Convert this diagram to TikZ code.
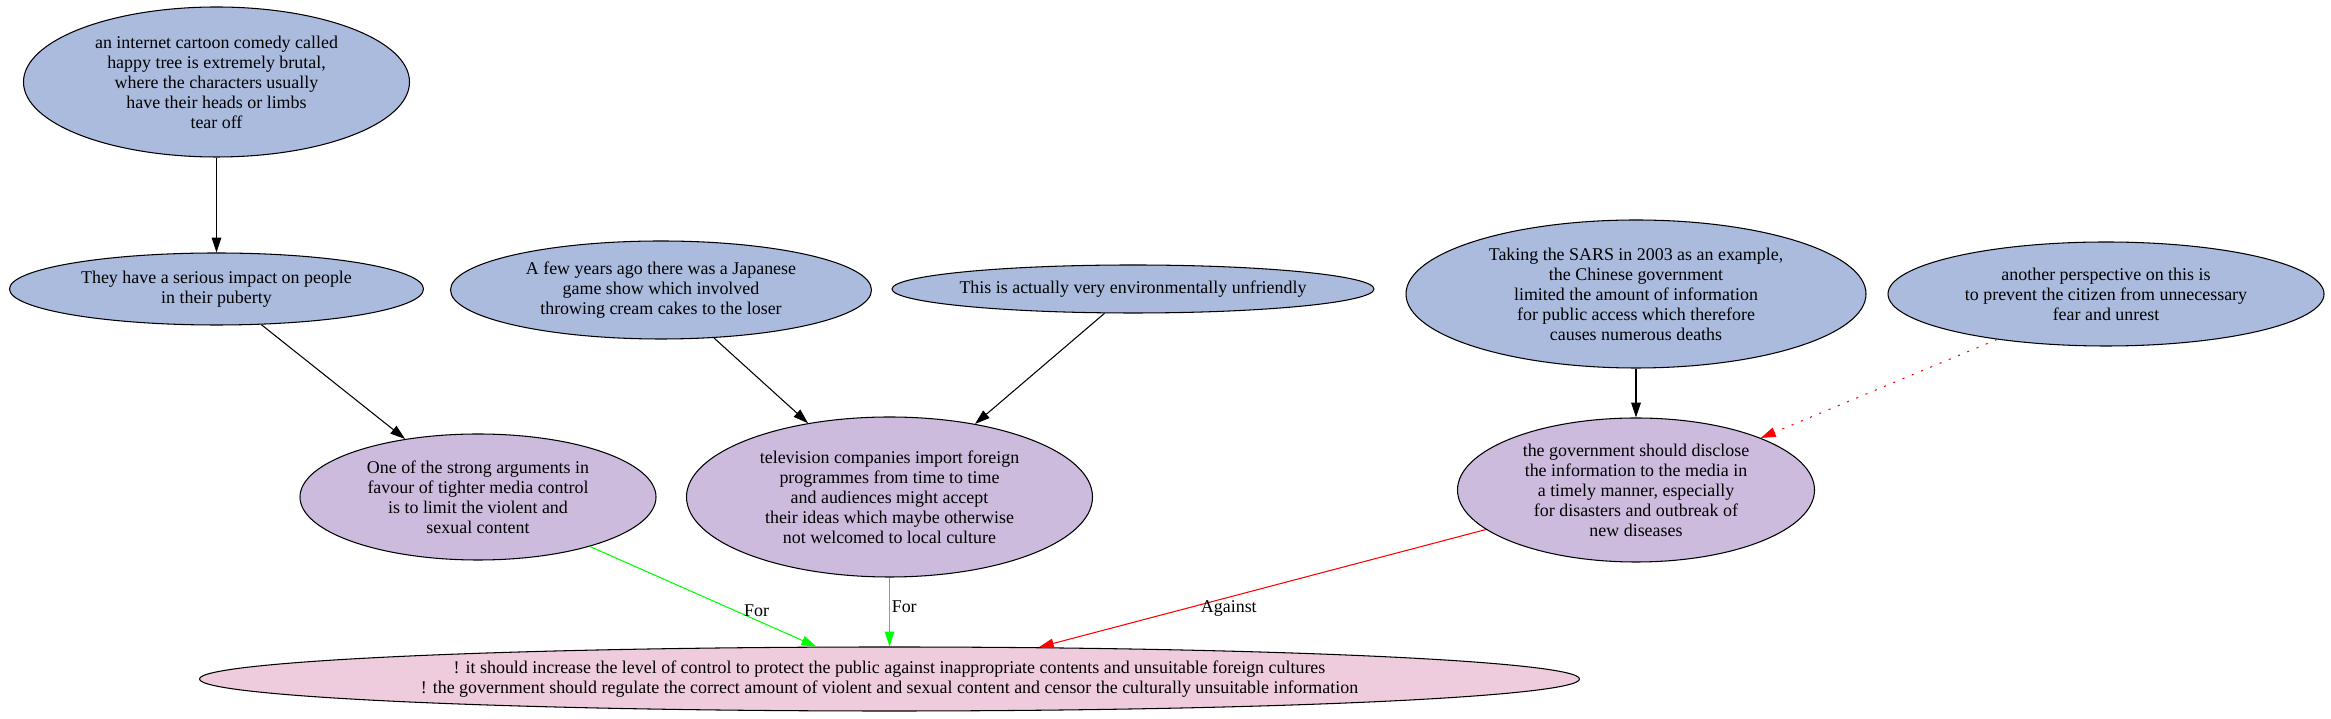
\documentclass[tikz,border=0pt]{standalone}
\usepackage{fontspec}
\setmainfont{Liberation Serif}
\usetikzlibrary{shapes.geometric,arrows.meta}

\definecolor{premise}{RGB}{170,187,221}
\definecolor{argument}{RGB}{204,187,221}
\definecolor{claim}{RGB}{238,204,221}
\definecolor{forgreen}{RGB}{0,255,0}
\definecolor{againstred}{RGB}{255,0,0}

\begin{document}
\begin{tikzpicture}[
    bubble/.style={ellipse, draw, line width=0.6pt, inner sep=0pt, align=center,
        font=\fontsize{10.2}{11.4}\selectfont},
    link/.style={line width=0.6pt, -{Triangle[length=8.5pt,width=5.5pt]}},
    lbl/.style={font=\fontsize{10.2}{11.4}\selectfont, inner sep=1pt}
]
    \useasboundingbox (0,0) rectangle (46.62,14.38);

    % top row
    \node[bubble, fill=premise, minimum width=7.72cm, minimum height=3cm] (cartoon) at (4.33,12.74)
        {an internet cartoon comedy called\\happy tree is extremely brutal,\\where the characters usually\\have their heads or limbs\\tear off};
    \node[bubble, fill=premise, minimum width=8.28cm, minimum height=1.44cm] (puberty) at (4.33,8.60)
        {They have a serious impact on people\\in their puberty};
    \node[bubble, fill=premise, minimum width=8.42cm, minimum height=1.96cm] (gameshow) at (13.22,8.58)
        {A few years ago there was a Japanese\\game show which involved\\throwing cream cakes to the loser};
    \node[bubble, fill=premise, inner xsep=-4pt, minimum width=9.64cm, minimum height=0.96cm] (unfriendly) at (22.66,8.60)
        {This is actually very environmentally unfriendly};
    \node[bubble, fill=premise, minimum width=9.2cm, minimum height=2.96cm] (sars) at (32.72,8.50)
        {Taking the SARS in 2003 as an example,\\the Chinese government\\limited the amount of information\\for public access which therefore\\causes numerous deaths};
    \node[bubble, fill=premise, minimum width=8.72cm, minimum height=2.08cm] (unrest) at (42.12,8.50)
        {another perspective on this is\\to prevent the citizen from unnecessary\\fear and unrest};

    % middle row
    \node[bubble, fill=argument, minimum width=7.12cm, minimum height=2.52cm] (violent) at (9.56,4.44)
        {One of the strong arguments in\\favour of tighter media control\\is to limit the violent and\\sexual content};
    \node[bubble, fill=argument, minimum width=8.12cm, minimum height=3.2cm] (foreign) at (17.79,4.44)
        {television companies import foreign\\programmes from time to time\\and audiences might accept\\their ideas which maybe otherwise\\not welcomed to local culture};
    \node[bubble, fill=argument, minimum width=7.14cm, minimum height=2.88cm] (disclose) at (32.72,4.58)
        {the government should disclose\\the information to the media in\\a timely manner, especially\\for disasters and outbreak of\\new diseases};

    % main claim
    \node[bubble, fill=claim, minimum width=27.6cm, minimum height=1.28cm] (control) at (17.79,0.80)
        {! it should increase the level of control to protect the public against inappropriate contents and unsuitable foreign cultures\\! the government should regulate the correct amount of violent and sexual content and censor the culturally unsuitable information};

    \draw[link] (cartoon) -- (puberty);
    \draw[link] (puberty) -- (violent);
    \draw[link] (gameshow) -- (foreign);
    \draw[link] (unfriendly) -- (foreign);
    \draw[link] (sars) -- (disclose);
    \draw[link, againstred, dash pattern=on 1.2pt off 4.5pt] (unrest) -- (disclose);

    \draw[link, forgreen] (violent) -- (control) node[lbl, text=black, pos=0.64, right=4pt] (for1) {For};
    \draw[link, forgreen] (foreign) -- (control) node[lbl, text=black, pos=0.42, right] (for2) {For};
    \draw[link, againstred] (disclose) -- (control.12) node[lbl, text=black, pos=0.67, right=7pt] (against) {Against};
\end{tikzpicture}
\end{document}
